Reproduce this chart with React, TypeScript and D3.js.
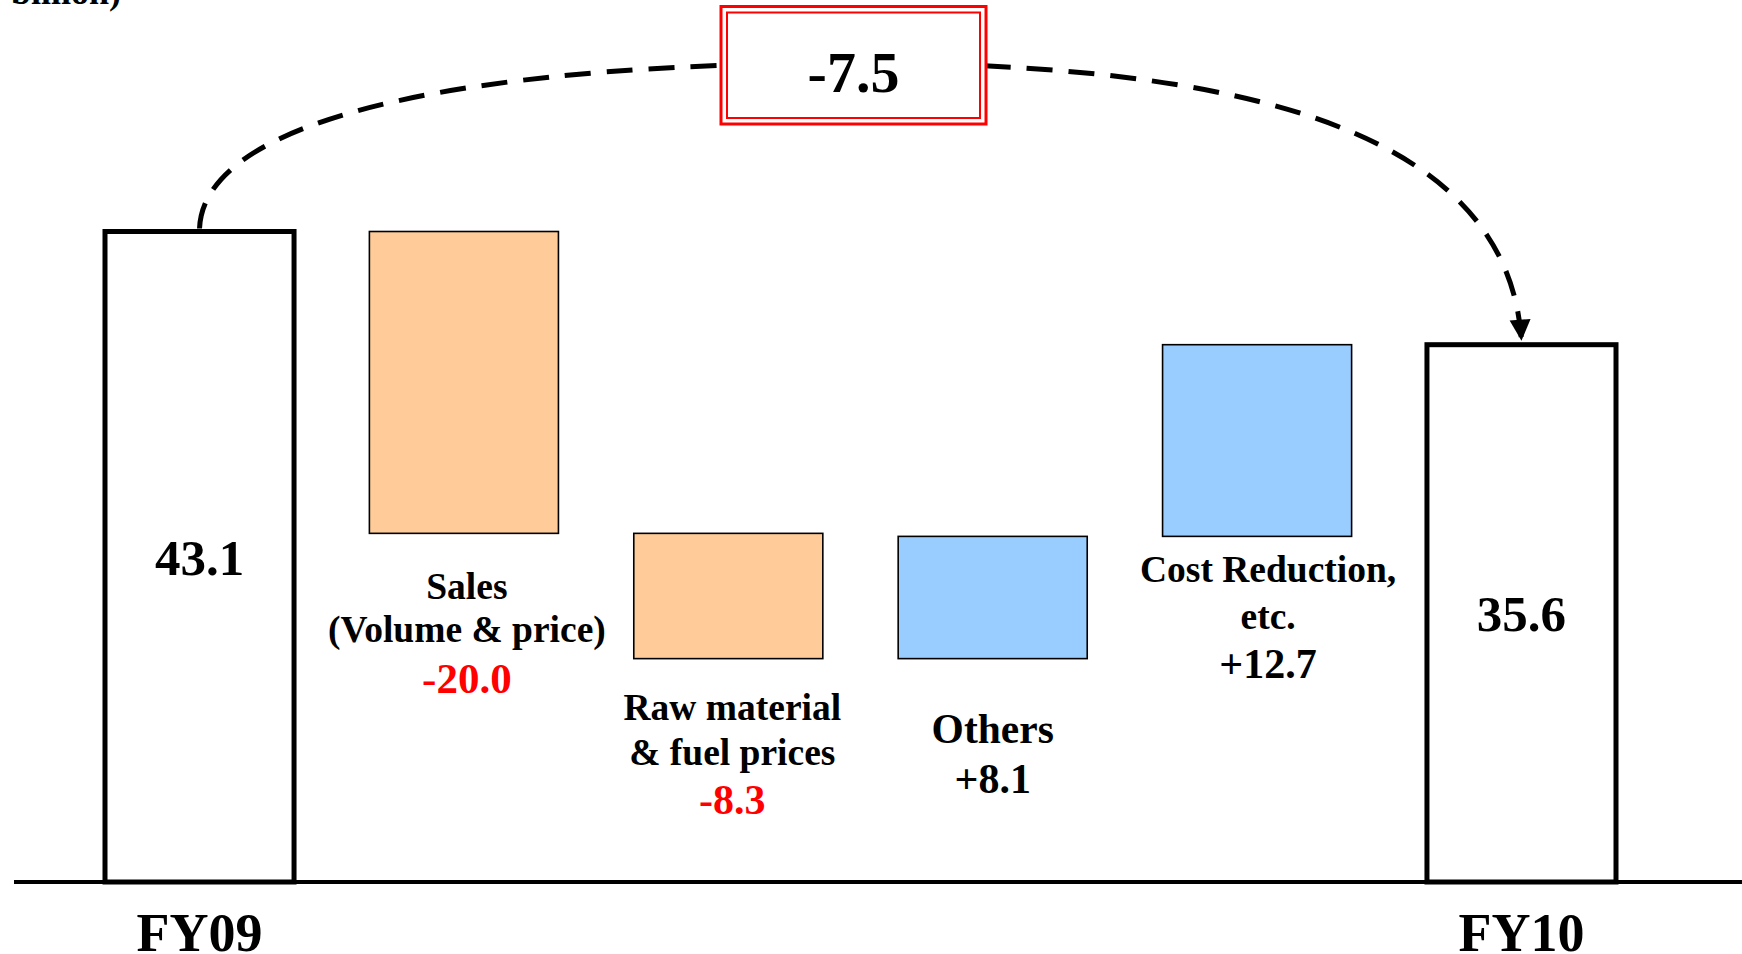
import React from "react";
import * as d3 from "d3";

// ---- data ----
const categories = ["FY09", "Sales", "Raw material", "Others", "Cost Reduction", "FY10"];
const categoryLines = [
  [],
  ["Sales", "(Volume & price)"],
  ["Raw material", "& fuel prices"],
  ["Others"],
  ["Cost Reduction,", "etc."],
  [],
];
const values = [43.1, -20.0, -8.3, 8.1, 12.7, 35.6];
const valueLabels = ["43.1", "-20.0", "-8.3", "+8.1", "+12.7", "35.6"];
const kinds = ["total", "delta", "delta", "delta", "delta", "total"];
const totalLabels = ["FY09", "FY10"];
const changeLabel = "-7.5";
const unitLabel = "(¥ billion)";

// ---- layout (not data) ----
const W = 1742;
const H = 954;
const BASE_Y = 882;
const FONT = "'Liberation Serif', 'Times New Roman', serif";
const labelLayout = [
  null,
  { dx: 3, first: 66, gap: 43, valGap: 51, size: 37.5, vsize: 43 },
  { dx: 4, first: 61, gap: 45, valGap: 49, size: 37.5, vsize: 42 },
  { dx: 0, first: 84, gap: 50, valGap: 50, size: 41.5, vsize: 42 },
  { dx: 11, first: 46, gap: 47, valGap: 49, size: 37.5, vsize: 42 },
  null,
];

export default function App() {
  const x = d3
    .scaleBand<string>()
    .domain(categories)
    .range([105, 1616])
    .paddingInner(0.285)
    .paddingOuter(0);
  const y = d3.scaleLinear().domain([0, 43.1]).range([BASE_Y, 231.5]);
  const bw = x.bandwidth();

  // waterfall
  let running = 0;
  const bars = categories.map((c, i) => {
    let lo: number, hi: number;
    if (kinds[i] === "total") {
      lo = 0;
      hi = values[i];
      running = values[i];
    } else {
      const start = running;
      running = running + values[i];
      lo = Math.min(start, running);
      hi = Math.max(start, running);
    }
    return { c, i, lo, hi, v: values[i] };
  });

  const cx = (c: string) => (x(c) as number) + bw / 2;

  const boxX0 = 721;
  const boxX1 = 986;
  const boxY0 = 6.5;
  const boxY1 = 124;
  const boxMid = (boxX0 + boxX1) / 2;

  // dashed connector from first total to last total, peaking behind the box
  const first = bars[0];
  const last = bars[bars.length - 1];
  const p0: [number, number] = [cx(first.c), y(first.hi) - 3];
  const p3: [number, number] = [cx(last.c), y(last.hi) - 4];
  const peakY = 63;
  const path = d3.path();
  path.moveTo(p0[0], p0[1]);
  path.bezierCurveTo(p0[0] + 5, 110, p0[0] + 300, peakY, boxMid, peakY);
  path.bezierCurveTo(boxMid + 390, peakY, p3[0] - 14, 130, p3[0], p3[1]);
  const arcPath = path.toString();

  return (
    <svg
      width={W}
      height={H}
      style={{ position: "absolute", left: 0, top: 0, background: "#fff" }}
      fontFamily={FONT}
      fontWeight="bold"
    >
      <defs>
        <marker
          id="arrowHead"
          markerUnits="userSpaceOnUse"
          markerWidth={28}
          markerHeight={28}
          viewBox="-24 -14 28 28"
          refX={0}
          refY={0}
          orient="auto"
        >
          <path d="M0,0 L-21,-10.5 L-21,10.5 Z" fill="#000" />
        </marker>
      </defs>

      <rect x={0} y={0} width={W} height={H} fill="#fff" />

      {/* unit label (mostly cropped at top) */}
      <text x={121} y={4} textAnchor="end" fontSize={36} fill="#000">
        {unitLabel}
      </text>

      {/* baseline */}
      <line x1={14} x2={W} y1={BASE_Y} y2={BASE_Y} stroke="#000" strokeWidth={4} />

      {/* bars */}
      {bars.map((b) => {
        const isTotal = kinds[b.i] === "total";
        const fill = isTotal ? "#fff" : b.v < 0 ? "#FFCC99" : "#99CCFF";
        return (
          <rect
            key={b.c}
            x={x(b.c)}
            y={y(b.hi)}
            width={bw}
            height={y(b.lo) - y(b.hi)}
            fill={fill}
            stroke="#000"
            strokeWidth={isTotal ? 5 : 1.6}
          />
        );
      })}

      {/* total value labels inside bars */}
      {bars
        .filter((b) => kinds[b.i] === "total")
        .map((b) => (
          <text
            key={"tv" + b.c}
            x={cx(b.c)}
            y={(y(b.hi) + y(b.lo)) / 2}
            dy="0.35em"
            textAnchor="middle"
            fontSize={51}
            fill="#000"
          >
            {valueLabels[b.i]}
          </text>
        ))}

      {/* delta labels below bars */}
      {bars
        .filter((b) => kinds[b.i] === "delta")
        .map((b) => {
          const L = labelLayout[b.i]!;
          const lines = categoryLines[b.i];
          const bottom = y(b.lo);
          const tx = cx(b.c) + L.dx;
          const lastLineY = bottom + L.first + (lines.length - 1) * L.gap;
          return (
            <g key={"dl" + b.c}>
              {lines.map((ln, k) => (
                <text
                  key={k}
                  x={tx}
                  y={bottom + L.first + k * L.gap}
                  textAnchor="middle"
                  fontSize={L.size}
                  fill="#000"
                >
                  {ln}
                </text>
              ))}
              <text
                x={tx}
                y={lastLineY + L.valGap}
                textAnchor="middle"
                fontSize={L.vsize}
                fill={b.v < 0 ? "#FF0000" : "#000"}
              >
                {valueLabels[b.i]}
              </text>
            </g>
          );
        })}

      {/* category labels for totals */}
      {[first, last].map((b, k) => (
        <text
          key={"tl" + b.c}
          x={cx(b.c)}
          y={951}
          textAnchor="middle"
          fontSize={54}
          fill="#000"
        >
          {totalLabels[k]}
        </text>
      ))}

      {/* dashed connector */}
      <path
        d={arcPath}
        fill="none"
        stroke="#000"
        strokeWidth={5}
        strokeDasharray="26 16"
        markerEnd="url(#arrowHead)"
      />

      {/* change box */}
      <rect
        x={boxX0}
        y={boxY0}
        width={boxX1 - boxX0}
        height={boxY1 - boxY0}
        fill="#fff"
        stroke="#FF0000"
        strokeWidth={3}
      />
      <rect
        x={boxX0 + 6}
        y={boxY0 + 6}
        width={boxX1 - boxX0 - 12}
        height={boxY1 - boxY0 - 12}
        fill="none"
        stroke="#FF0000"
        strokeWidth={2}
      />
      <text x={boxMid} y={92} textAnchor="middle" fontSize={58} fill="#000">
        {changeLabel}
      </text>
    </svg>
  );
}
